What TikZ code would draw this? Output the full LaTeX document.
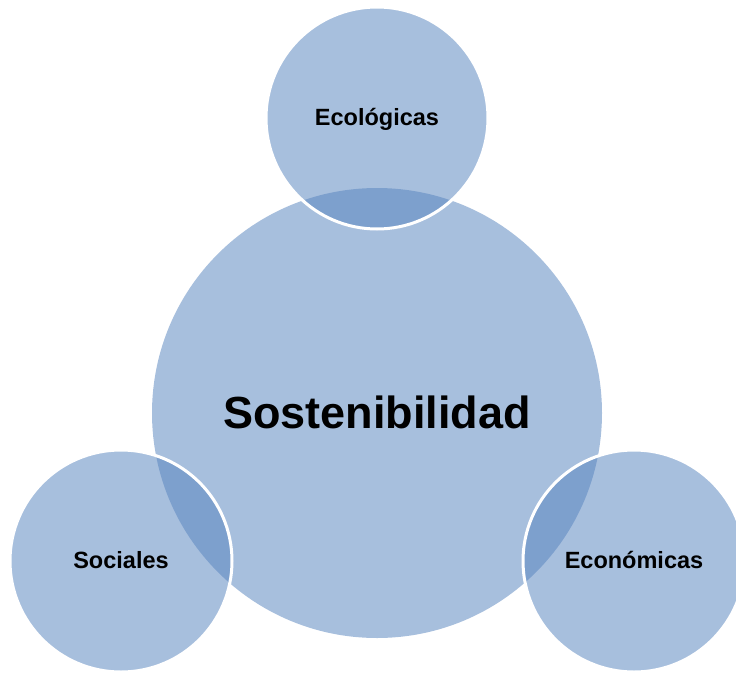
\documentclass[tikz,border=0pt]{standalone}
\usepackage{fontspec}
\setmainfont{Liberation Sans}
\definecolor{ringblue}{RGB}{87,132,190}
\begin{document}
\begin{tikzpicture}[x=1pt,y=-1pt,
  bigcirc/.style={circle, inner sep=0pt, minimum size=450pt, fill=ringblue, fill opacity=0.52, text opacity=1,
    font=\bfseries\fontsize{45}{50}\selectfont, text height=30pt, text depth=0pt},
  smallcirc/.style={circle, inner sep=0pt, minimum size=222pt, fill=ringblue, fill opacity=0.52, text opacity=1,
    draw=white, draw opacity=1, line width=3pt,
    font=\bfseries\fontsize{23.5}{26}\selectfont, text height=14.5pt, text depth=0pt}]
\useasboundingbox (0,0) rectangle (736,672);
\node[bigcirc] (big) at (377,413) {Sostenibilidad};
\node[smallcirc] (eco) at (377,118) {Ecológicas};
\node[smallcirc] (soc) at (121,561) {Sociales};
\node[smallcirc] (econ) at (634,561) {Económicas};
\end{tikzpicture}
\end{document}
